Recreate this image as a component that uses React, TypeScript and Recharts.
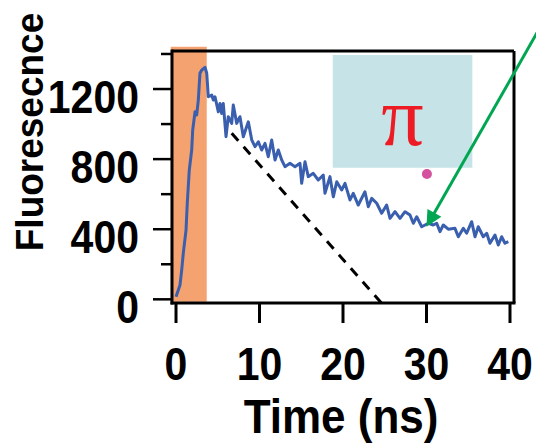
import React from 'react';
import { LineChart, Line, XAxis, YAxis, ReferenceArea, ReferenceLine, ReferenceDot } from 'recharts';

// decay trace (ns, counts)
const time = [
  0, 0.48, 0.68, 0.87, 1.2, 1.35, 1.59, 1.88, 2.0, 2.28,
  2.48, 2.67, 2.87, 3.08, 3.47, 3.68, 3.87, 4.28, 4.47, 4.67,
  5.07, 5.27, 5.47, 5.66, 5.99, 6.26, 6.67, 6.86, 7.27, 7.66,
  8.06, 8.66, 9.07, 9.46, 9.86, 10.26, 10.66, 11.05, 11.46, 11.86,
  12.25, 12.66, 13.05, 13.65, 14.25, 14.85, 15.05, 15.45, 15.84, 16.44,
  17.04, 17.64, 17.84, 18.44, 18.84, 19.25, 19.84, 20.24, 20.84, 21.23,
  21.83, 22.63, 23.03, 23.44, 24.04, 24.63, 25.23, 25.63, 26.23, 26.83,
  27.43, 28.02, 28.42, 28.83, 29.43, 30.22, 30.81, 31.22, 31.62, 32.01,
  32.61, 33.41, 33.81, 34.41, 34.81, 35.41, 35.81, 36.2, 36.8, 37.21,
  37.6, 38.2, 38.6, 39.0, 39.4, 39.8,
];
const fluorescence = [
  15, 82, 167, 262, 395, 548, 738, 852, 966, 1070,
  1052, 1137, 1290, 1308, 1324, 1290, 1156, 1166, 1137, 1156,
  1070, 1118, 1061, 1118, 928, 1042, 1004, 1109, 1004, 1042,
  928, 1013, 909, 871, 899, 852, 890, 814, 909, 795,
  852, 795, 757, 776, 757, 776, 662, 785, 700, 719,
  681, 709, 605, 700, 585, 671, 624, 662, 567, 605,
  538, 614, 528, 576, 548, 491, 538, 462, 500, 462,
  500, 481, 434, 471, 414, 434, 424, 434, 386, 424,
  400, 405, 357, 405, 377, 443, 357, 414, 357, 377,
  320, 367, 310, 357, 320, 329,
];

const xTicks = [0, 10, 20, 30, 40];
const yTicks = [0, 200, 400, 600, 800, 1000, 1200, 1400];
const yLabelled = [0, 400, 800, 1200];

const xDomain = [-0.48, 40.48];
const yDomain = [-21, 1417];

// annotations
const pulseWindow = { x1: -0.63, x2: 3.68, y1: -14, y2: 1441 };
const box = { x1: 18.77, x2: 35.49, y1: 751, y2: 1394 };
const dashedFit = [{ x: 6.67, y: 947 }, { x: 25.15, y: -51 }];
const arrowPts = [{ x: 44, y: 1585 }, { x: 30.0, y: 414 }];
const marker = { x: 30.05, y: 715 };

const data = time.map((t, i) => ({ t, v: fluorescence[i] }));

const FONT = '"Liberation Sans", Arial, sans-serif';

const XTick = ({ x, y, payload }: any) => (
  <text
    transform={`translate(${x},${y + 57}) scale(1,1.12)`}
    textAnchor="middle"
    fontFamily={FONT}
    fontWeight="bold"
    fontSize={41}
    fill="#000"
  >
    {payload.value}
  </text>
);

const YTick = ({ x, y, payload }: any) => {
  const major = yLabelled.includes(payload.value);
  const len = major ? 19 : 11;
  return (
    <g>
      <line x1={x - len} x2={x} y1={y} y2={y} stroke="#000" strokeWidth={2.5} />
      {major && (
        <text
          transform={`translate(${x - 33},${y + 24}) scale(1,1.12)`}
          textAnchor="end"
          fontFamily={FONT}
          fontWeight="bold"
          fontSize={41}
          fill="#000"
        >
          {payload.value}
        </text>
      )}
    </g>
  );
};

const XTitle = ({ viewBox }: any) => (
  <text
    transform={`translate(${viewBox.x + viewBox.width / 2 - 2},${viewBox.y + 130}) scale(1,1.08)`}
    textAnchor="middle"
    fontFamily={FONT}
    fontWeight="bold"
    fontSize={44}
    fill="#000"
  >
    Time (ns)
  </text>
);

const YTitle = ({ viewBox }: any) => (
  <text
    transform={`translate(${viewBox.x + 43},${viewBox.y + 81}) rotate(-90) scale(1,1.05)`}
    textAnchor="middle"
    fontFamily={FONT}
    fontWeight="bold"
    fontSize={37}
    fill="#000"
  >
    Fluoresecnce
  </text>
);

const PiLabel = ({ viewBox }: any) => (
  <text
    x={viewBox.x + viewBox.width / 2}
    y={viewBox.y + viewBox.height * 0.8}
    textAnchor="middle"
    fontFamily='"Liberation Serif", "DejaVu Serif", serif'
    fontSize={84}
    fill="#ED1C24"
  >
    π
  </text>
);

const Arrow = (props: any) => {
  const { x1, y1, x2, y2 } = props;
  const dx = x1 - x2;
  const dy = y1 - y2;
  const len = Math.sqrt(dx * dx + dy * dy) || 1;
  const ux = dx / len;
  const uy = dy / len;
  const head = 16;
  const half = 8;
  const bx = x2 + ux * head;
  const by = y2 + uy * head;
  return (
    <g>
      <line x1={x1} y1={y1} x2={x2 + ux * 12} y2={y2 + uy * 12} stroke="#00A651" strokeWidth={3} />
      <polygon
        points={`${x2},${y2} ${bx - uy * half},${by + ux * half} ${bx + uy * half},${by - ux * half}`}
        fill="#00A651"
      />
    </g>
  );
};

const axisStroke = { stroke: '#000', strokeWidth: 3, strokeLinecap: 'square' as const };

export default function App() {
  return (
    <div style={{ position: 'absolute', left: 0, top: 0, background: '#fff' }}>
      <LineChart
        width={536}
        height={444}
        data={data}
        margin={{ top: 51, right: 22, bottom: 0, left: 0 }}
      >
        <ReferenceArea
          x1={pulseWindow.x1}
          x2={pulseWindow.x2}
          y1={pulseWindow.y1}
          y2={pulseWindow.y2}
          fill="#F5A271"
          fillOpacity={1}
          stroke="none"
          ifOverflow="visible"
        />
        <ReferenceArea
          x1={box.x1}
          x2={box.x2}
          y1={box.y1}
          y2={box.y2}
          fill="#C6E4E7"
          fillOpacity={1}
          stroke="none"
          ifOverflow="visible"
          label={<PiLabel />}
        />
        <XAxis
          dataKey="t"
          type="number"
          domain={xDomain}
          ticks={xTicks}
          interval={0}
          allowDataOverflow
          height={141}
          axisLine={axisStroke}
          tickLine={{ stroke: '#000', strokeWidth: 3 }}
          tickSize={20}
          tickMargin={0}
          tick={<XTick />}
          label={<XTitle />}
        />
        <YAxis
          type="number"
          domain={yDomain}
          ticks={yTicks}
          interval={0}
          allowDataOverflow
          width={172}
          axisLine={axisStroke}
          tickLine={false}
          tickSize={0}
          tickMargin={0}
          tick={<YTick />}
          label={<YTitle />}
        />
        {/* top and right sides of the frame */}
        <ReferenceLine y={yDomain[1]} stroke="#000" strokeWidth={3} ifOverflow="visible" />
        <ReferenceLine x={xDomain[1]} stroke="#000" strokeWidth={3} ifOverflow="visible" />
        <Line
          dataKey="v"
          type="linear"
          stroke="#3A5FAE"
          strokeWidth={3}
          strokeLinejoin="round"
          dot={false}
          isAnimationActive={false}
        />
        <ReferenceLine
          segment={dashedFit}
          stroke="#000"
          strokeWidth={3}
          strokeDasharray="10 8"
          ifOverflow="visible"
        />
        <ReferenceDot x={marker.x} y={marker.y} r={5} fill="#D4519E" stroke="none" ifOverflow="visible" />
        <ReferenceLine segment={arrowPts} ifOverflow="visible" shape={<Arrow />} />
      </LineChart>
    </div>
  );
}
